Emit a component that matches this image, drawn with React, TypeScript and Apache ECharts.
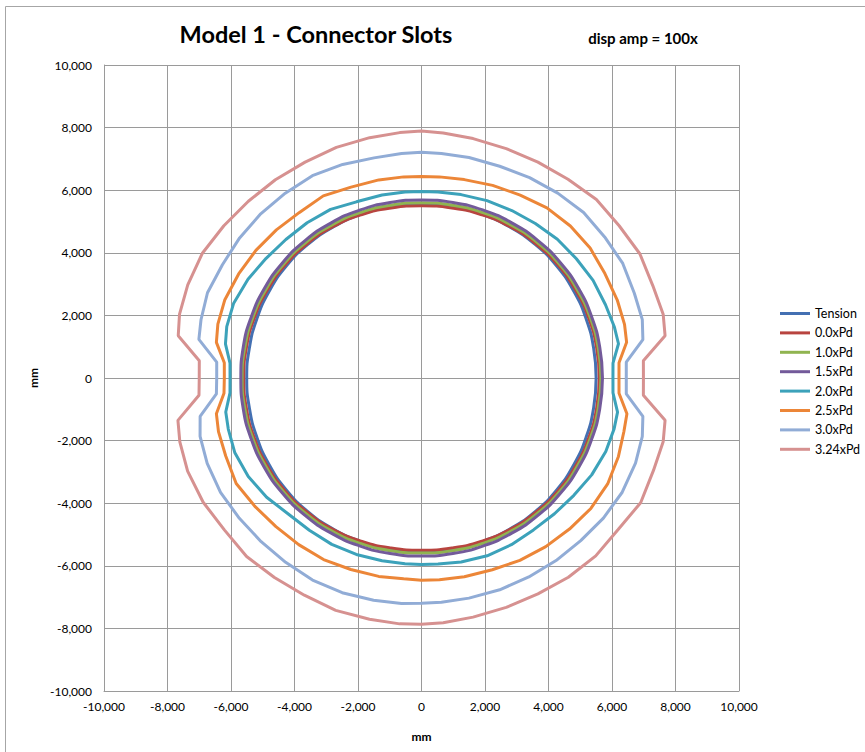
import React, { useEffect, useRef } from "react";
import * as echarts from "echarts";

// ---------- data ----------
const seriesNames = ["Tension", "0.0xPd", "1.0xPd", "1.5xPd", "2.0xPd", "2.5xPd", "3.0xPd", "3.24xPd"];
const seriesColors = ["#4470B2", "#B8443F", "#90B450", "#735A9A", "#3CA2BA", "#EC8638", "#91ACD6", "#D69190"];

const axisMin = -10000;
const axisMax = 10000;
const axisStep = 2000;

// inner rings: radius (mm) read every 10 degrees (0..350)
const innerAngles = [0, 10, 20, 30, 40, 50, 60, 70, 80, 90, 100, 110, 120, 130, 140, 150, 160, 170,
  180, 190, 200, 210, 220, 230, 240, 250, 260, 270, 280, 290, 300, 310, 320, 330, 340, 350];
const tensionR = [5500, 5505, 5520, 5540, 5560, 5570, 5570, 5565, 5560, 5560, 5560, 5565, 5570, 5570, 5560, 5540, 5520, 5505,
  5505, 5505, 5520, 5540, 5560, 5570, 5570, 5565, 5560, 5560, 5560, 5565, 5570, 5570, 5560, 5540, 5520, 5505];
const pd00R = [5600, 5600, 5605, 5610, 5610, 5600, 5580, 5550, 5515, 5500, 5515, 5550, 5580, 5600, 5610, 5610, 5605, 5600,
  5600, 5600, 5605, 5610, 5610, 5600, 5580, 5550, 5515, 5500, 5515, 5550, 5580, 5600, 5610, 5610, 5605, 5600];
const pd10R = [5650, 5650, 5655, 5660, 5665, 5660, 5645, 5625, 5605, 5600, 5605, 5625, 5645, 5660, 5665, 5660, 5655, 5650,
  5650, 5650, 5655, 5660, 5665, 5660, 5645, 5625, 5605, 5595, 5605, 5625, 5645, 5660, 5665, 5660, 5655, 5650];
const pd15R = [5700, 5700, 5705, 5715, 5720, 5720, 5715, 5705, 5695, 5690, 5695, 5705, 5715, 5720, 5720, 5715, 5705, 5700,
  5690, 5700, 5705, 5715, 5720, 5720, 5715, 5705, 5695, 5690, 5695, 5705, 5715, 5720, 5720, 5715, 5705, 5700];

// outer rings: radius (mm) read at these angles (denser near the side notches)
const outerAngles = [
  0, 4.5, 10, 15, 22, 30, 38, 46, 54, 62, 70, 78, 85,
  90, 95, 102, 110, 118, 126, 134, 142, 150, 158, 165, 170, 175.5,
  180, 184.5, 190, 195, 202, 210, 218, 226, 234, 242, 250, 258, 265,
  270, 275, 282, 290, 298, 306, 314, 322, 330, 338, 345, 350, 355.5,
];
const pd20R = [
  6030, 6050, 6300, 6290, 6250, 6240, 6190, 6160, 6100, 6060, 6030, 5990, 5965,
  5960, 5965, 5975, 5990, 6100, 6130, 6150, 6210, 6310, 6380, 6350, 6270, 6050,
  6030, 6050, 6260, 6300, 6345, 6300, 6190, 6040, 6010, 6020, 6000, 5970, 5955,
  5960, 5965, 6010, 6045, 6030, 6000, 6030, 6090, 6190, 6260, 6280, 6270, 6050,
];
const pd25R = [
  6220, 6240, 6560, 6620, 6650, 6670, 6740, 6750, 6720, 6620, 6550, 6480, 6450,
  6440, 6450, 6470, 6490, 6590, 6540, 6580, 6620, 6650, 6680, 6640, 6560, 6230,
  6210, 6240, 6560, 6620, 6650, 6740, 6660, 6600, 6580, 6570, 6510, 6480, 6440,
  6460, 6470, 6490, 6520, 6600, 6660, 6710, 6770, 6770, 6690, 6600, 6570, 6240,
];
const pd30R = [
  6450, 6470, 7080, 7200, 7230, 7320, 7320, 7350, 7300, 7250, 7200, 7200, 7200,
  7210, 7200, 7190, 7260, 7320, 7300, 7290, 7270, 7240, 7270, 7190, 7120, 6470,
  6450, 6480, 7080, 7220, 7280, 7310, 7280, 7270, 7280, 7310, 7300, 7260, 7230,
  7200, 7190, 7190, 7200, 7200, 7210, 7220, 7270, 7300, 7270, 7200, 7080, 6470,
];
const pd324R = [
  6990, 7010, 7790, 7880, 7860, 7940, 7900, 7930, 7850, 7810, 7800, 7820, 7860,
  7890, 7870, 7850, 7840, 7810, 7830, 7850, 7900, 7970, 7940, 7890, 7780, 7020,
  7000, 7030, 7790, 7880, 7945, 7940, 7880, 7930, 7880, 7860, 7900, 7880, 7885,
  7870, 7850, 7810, 7800, 7810, 7870, 7900, 7860, 7970, 7880, 7880, 7790, 7010,
];

// ---------- helpers ----------
function ringPoints(angles: number[], radii: number[]): number[][] {
  const pts = angles.map((a, i) => {
    const t = (a * Math.PI) / 180;
    return [radii[i] * Math.cos(t), radii[i] * Math.sin(t)];
  });
  pts.push(pts[0]);
  return pts;
}

const ringData = [
  ringPoints(innerAngles, tensionR),
  ringPoints(innerAngles, pd00R),
  ringPoints(innerAngles, pd10R),
  ringPoints(innerAngles, pd15R),
  ringPoints(outerAngles, pd20R),
  ringPoints(outerAngles, pd25R),
  ringPoints(outerAngles, pd30R),
  ringPoints(outerAngles, pd324R),
];

const FONT = "Lato, 'Open Sans', sans-serif";
const fmt = (v: number) => v.toLocaleString("en-US");

export default function App() {
  const ref = useRef<HTMLDivElement>(null);
  useEffect(() => {
    if (!ref.current) return;
    const chart = echarts.init(ref.current, undefined, { renderer: "svg" });
    const gridColor = "#9a9a9a";
    chart.setOption({
      animation: false,
      backgroundColor: "#ffffff",
      graphic: [
        {
          type: "rect",
          silent: true,
          z: -10,
          shape: { x: 5.5, y: 6.5, width: 900, height: 800 },
          style: { fill: "none", stroke: "#a6a6a6", lineWidth: 1 },
        },
        {
          type: "text",
          x: 316,
          y: 34,
          style: {
            text: "Model 1 - Connector Slots",
            font: `bold 23.5px ${FONT}`,
            fill: "#000",
            textAlign: "center",
            textVerticalAlign: "middle",
          },
        },
        {
          type: "text",
          x: 643,
          y: 38,
          style: {
            text: "disp amp = 100x",
            font: `bold 15px ${FONT}`,
            fill: "#000",
            textAlign: "center",
            textVerticalAlign: "middle",
          },
        },
      ],
      grid: { left: 104, top: 65, width: 635, height: 626, containLabel: false },
      legend: {
        data: seriesNames,
        orient: "vertical",
        left: 780,
        top: 307,
        padding: 0,
        icon: "rect",
        itemWidth: 30,
        itemHeight: 3,
        itemGap: 6.4,
        itemStyle: { borderWidth: 0 },
        textStyle: { fontFamily: FONT, fontSize: 12.5, color: "#000" },
      },
      xAxis: {
        type: "value",
        min: axisMin,
        max: axisMax,
        interval: axisStep,
        name: "mm",
        nameLocation: "middle",
        nameGap: 39,
        nameTextStyle: { fontFamily: FONT, fontSize: 12, fontWeight: "bold", color: "#000" },
        axisLine: { show: true, onZero: false, lineStyle: { color: gridColor, width: 1 } },
        axisTick: { show: false },
        axisLabel: { fontFamily: FONT, fontSize: 12, color: "#000", margin: 9, formatter: fmt },
        splitLine: { show: true, lineStyle: { color: gridColor, width: 1 } },
      },
      yAxis: {
        type: "value",
        min: axisMin,
        max: axisMax,
        interval: axisStep,
        name: "mm",
        nameLocation: "middle",
        nameGap: 65,
        nameRotate: 90,
        nameTextStyle: { fontFamily: FONT, fontSize: 12, fontWeight: "bold", color: "#000" },
        axisLine: { show: true, onZero: false, lineStyle: { color: gridColor, width: 1 } },
        axisTick: { show: false },
        axisLabel: { fontFamily: FONT, fontSize: 12, color: "#000", margin: 12, formatter: fmt },
        splitLine: { show: true, lineStyle: { color: gridColor, width: 1 } },
      },
      series: seriesNames.map((name, i) => ({
        name,
        type: "line",
        data: ringData[i],
        showSymbol: false,
        symbol: "none",
        smooth: i < 4 ? 0.5 : false,
        color: seriesColors[i],
        lineStyle: { color: seriesColors[i], width: 3 },
        emphasis: { disabled: true },
      })),
    });
    return () => chart.dispose();
  }, []);
  return (
    <div
      ref={ref}
      style={{ position: "fixed", left: 0, top: 0, width: 865, height: 752, background: "#fff" }}
    />
  );
}
